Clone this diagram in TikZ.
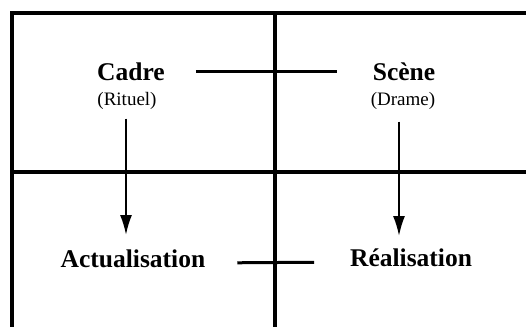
\documentclass[tikz,border=0pt]{standalone}
\usepackage{fontspec}
\setmainfont{Liberation Serif}
\usetikzlibrary{arrows.meta}
\begin{document}
\begin{tikzpicture}[x=1pt, y=-1pt, line cap=butt,
    term/.style={inner sep=0pt, outer sep=0pt, font=\bfseries\fontsize{25.5}{25.5}\selectfont},
    gloss/.style={inner sep=0pt, outer sep=0pt, font=\fontsize{19}{19}\selectfont},
    frame/.style={line width=4pt},
    link/.style={line width=3pt},
    flow/.style={line width=2pt, -{Latex[length=20pt, width=12pt]}}]
  \useasboundingbox (0,0) rectangle (526,326);
  % cadre
  \begin{scope}
    \clip (0,0) rectangle (526,326);
    \draw[frame] (12,13) rectangle (560,360);
    \draw[frame] (275,13) -- (275,360);
    \draw[frame] (12,172) -- (560,172);
  \end{scope}
  % termes
  \node[term] (cadre) at (131,72) {Cadre};
  \node[gloss] (rituel) at (127,101) {(Rituel)};
  \node[term] (scene) at (404,72) {Scène};
  \node[gloss] (drame) at (403,101) {(Drame)};
  \node[term] (actu) at (133,259) {Actualisation};
  \node[term] (real) at (411,258) {Réalisation};
  % liaisons
  \draw[link, shorten <=31pt, shorten >=36pt] (cadre.east) -- (scene.west);
  \draw[link, shorten <=32pt, shorten >=36pt] ([yshift=-4pt]actu.east) -- ([yshift=-4pt]real.west);
  \draw[flow, shorten <=9pt, shorten >=15pt] ([xshift=-1pt]rituel.south) -- ([xshift=-1pt]rituel.south |- actu.north);
  \draw[flow, shorten <=12pt, shorten >=13pt] ([xshift=-4pt]drame.south) -- ([xshift=-4pt]drame.south |- real.north);
\end{tikzpicture}
\end{document}
